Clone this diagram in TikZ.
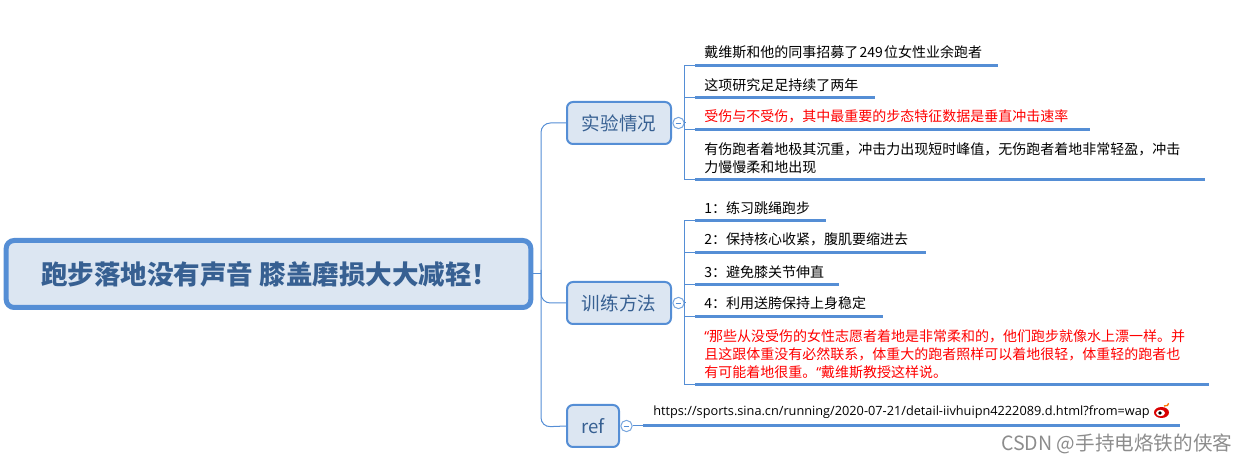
\documentclass[tikz,border=0pt]{standalone}
\usepackage{fontspec}
\setmainfont{Noto Sans CJK SC}
\newfontfamily\urlfont{Open Sans}
\definecolor{edge}{HTML}{558ED5}
\definecolor{boxfill}{HTML}{DCE6F2}
\definecolor{boxtext}{HTML}{376092}
\tikzset{
  rootbox/.style={draw=edge,line width=3.75pt,fill=boxfill,rounded corners=6pt,inner sep=0pt},
  topicbox/.style={draw=edge,line width=1.5pt,fill=boxfill,rounded corners=4.5pt,inner sep=0pt,text=boxtext,font=\fontsize{13.9pt}{17pt}\selectfont},
  itemtext/.style={anchor=west,inner sep=0pt,align=left,yshift=-0.5pt,font=\fontsize{10.5pt}{13.5pt}\selectfont},
  redtext/.style={itemtext,text=red},
  thin link/.style={draw=edge,line width=0.75pt},
  under/.style={draw=edge,line width=2.25pt},
  fold/.style={circle,draw=edge!80,line width=0.75pt,fill=white,minimum size=8.5pt,inner sep=0pt},
}
\newcommand{\q}{{\urlfont\char"201C}}
\begin{document}
\begin{tikzpicture}[x=0.75pt,y=-0.75pt]
\useasboundingbox (0,0) rectangle (1247,463);
% boxes
\node[rootbox,minimum width=393.5pt,minimum height=50.25pt] (root) at (268.5,274) {};
\node[anchor=west,inner sep=0pt,text=boxtext,font=\fontsize{19.9pt}{24pt}\selectfont\bfseries] (roottext) at (41,274) {跑步落地没有声音 膝盖磨损大大减轻！};
\node[topicbox,minimum width=78pt,minimum height=31.5pt] (exp) at (619,123) {实验情况};
\node[topicbox,minimum width=78pt,minimum height=31.5pt] (train) at (619,303) {训练方法};
\node[topicbox,minimum width=39pt,minimum height=31.5pt] (ref) at (593,426) {ref};
% fold markers
\node[fold] (fa) at (678.5,123) {};
\node[fold] (fb) at (678.5,303) {};
\node[fold] (fc) at (626.5,426) {};
\foreach \n in {fa,fb,fc} \draw[draw=edge,line width=0.6pt] ([xshift=-2.2pt]\n.center) -- ([xshift=2.2pt]\n.center);
% trunk
\coordinate (jr) at (541,274);
\draw[thin link] (root.east) -- (jr);
\draw[thin link,rounded corners=7pt] (exp.west) -- (541,123) -- (541,427) -- (ref.west);
\draw[thin link,rounded corners=7pt] (541,270) -- (541,303) -- (train.west);
% experiment items
\node[itemtext] (a1) at (704,52) {戴维斯和他的同事招募了\hspace{1pt}249\hspace{1pt}位女性业余跑者};
\node[itemtext] (a2) at (704,84) {这项研究足足持续了两年};
\node[redtext] (a3) at (704,116) {受伤与不受伤，其中最重要的步态特征数据是垂直冲击速率};
\node[itemtext] (a4) at (704,157.5) {有伤跑者着地极其沉重，冲击力出现短时峰值，无伤跑者着地非常轻盈，冲击\\力慢慢柔和地出现};
\coordinate (as) at (684.5,123);
\coordinate (a1l) at (695,66); \coordinate (a1r) at (998,66);
\coordinate (a2l) at (695,98); \coordinate (a2r) at (875,98);
\coordinate (a3l) at (695,130); \coordinate (a3r) at (1090,130);
\coordinate (a4l) at (695,180); \coordinate (a4r) at (1205,180);
\draw[thin link] (fa.east) -- (as);
\draw[thin link] (a1l) -- (684.5,66) -- (684.5,180) -- (a4l);
\draw[thin link] (684.5,98) -- (a2l);
\draw[thin link] (684.5,130) -- (a3l);
\foreach \n in {a1,a2,a3,a4} \draw[under] (\n l) -- (\n r);
% training items
\node[itemtext] (b1) at (704,207) {1：练习跳绳跑步};
\node[itemtext] (b2) at (704,239) {2：保持核心收紧，腹肌要缩进去};
\node[itemtext] (b3) at (704,271) {3：避免膝关节伸直};
\node[itemtext] (b4) at (704,303) {4：利用送胯保持上身稳定};
\node[redtext] (b5) at (704,353.5) {\q 那些从没受伤的女性志愿者着地是非常柔和的，他们跑步就像水上漂一样。并\\且这跟体重没有必然联系，体重大的跑者照样可以着地很轻，体重轻的跑者也\\有可能着地很重。\q 戴维斯教授这样说。};
\coordinate (bs) at (684.5,303);
\coordinate (b1l) at (695,221); \coordinate (b1r) at (826,221);
\coordinate (b2l) at (695,253); \coordinate (b2r) at (926,253);
\coordinate (b3l) at (695,285); \coordinate (b3r) at (839,285);
\coordinate (b4l) at (695,317); \coordinate (b4r) at (883,317);
\coordinate (b5l) at (695,385); \coordinate (b5r) at (1209,385);
\draw[thin link] (fb.east) -- (bs);
\draw[thin link] (b1l) -- (684.5,221) -- (684.5,385) -- (b5l);
\draw[thin link] (684.5,253) -- (b2l);
\draw[thin link] (684.5,285) -- (b3l);
\draw[thin link] (684.5,317) -- (b4l);
\foreach \n in {b1,b2,b3,b4,b5} \draw[under] (\n l) -- (\n r);
% ref item
\node[anchor=west,inner sep=0pt,font=\urlfont\fontsize{9.55pt}{12pt}\selectfont] (c1) at (653,412.5) {https://sports.sina.cn/running/2020-07-21/detail-iivhuipn4222089.d.html?from=wap};
\coordinate (c1l) at (643,426); \coordinate (c1r) at (1180,426);
\draw[thin link] (fc.east) -- (c1l);
\draw[under] (c1l) -- (c1r);
% weibo icon
\fill[red!85!black] (1161.5,412.5) ellipse [x radius=7.5,y radius=5.5];
\fill[white] (1160.5,413) ellipse [x radius=4.5,y radius=3.2];
\fill[black] (1160,413) circle (1.8);
\draw[orange!90!red,line width=1pt] (1164,406) arc (110:10:3.5);
% watermark
\node[anchor=west,inner sep=0pt,text=black!45,font=\fontsize{14.7pt}{17pt}\selectfont] (wm) at (1001,444) {CSDN @手持电烙铁的侠客};
\end{tikzpicture}
\end{document}
